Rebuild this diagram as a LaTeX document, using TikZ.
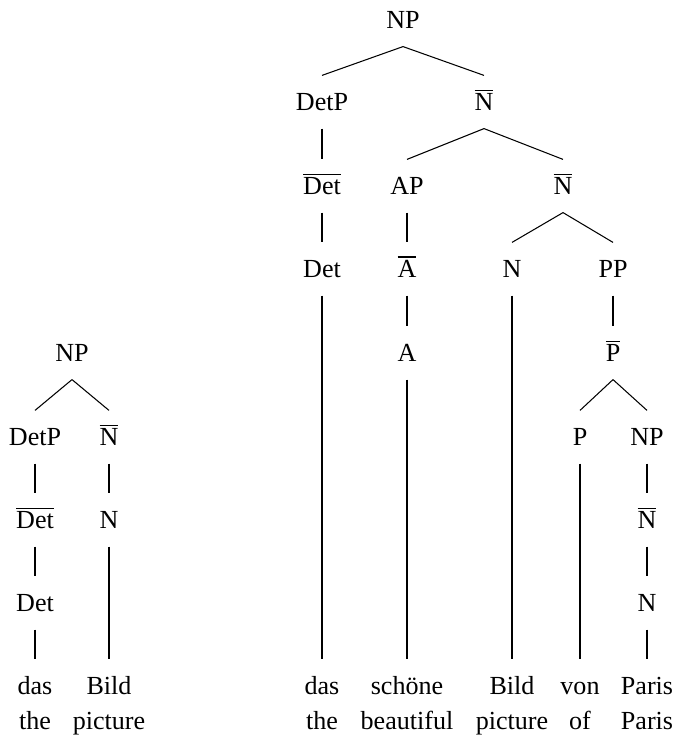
\documentclass[tikz,border=0pt]{standalone}
\usepackage{fontspec}
\setmainfont{Liberation Serif}
\newcommand{\xbar}[1]{$\overline{\mbox{#1}}$}

\begin{document}
\begin{tikzpicture}[x=0.3835pt,y=-0.3835pt,
  cat/.style={inner sep=0pt,text height=6.8pt,text depth=0pt,minimum height=20pt}]
\useasboundingbox (0,0) rectangle (677,737);
% small tree
\node[cat] (lnp) at (72,353) {NP};
\node[cat] (ldetp) at (35,437) {DetP};
\node[cat] (lnbar) at (109,437) {\xbar{N}};
\node[cat] (ldetbar) at (35,520) {\xbar{Det}};
\node[cat] (ln) at (109,520) {N};
\node[cat] (ldet) at (35,603) {Det};
\node[cat] (ldas) at (35,686) {das};
\node[cat] (lbild) at (109,686) {Bild};
\node[cat] (lthe) at (35,721) {the};
\node[cat] (lpicture) at (109,721) {picture};
% big tree
\node[cat] (np) at (403,20) {NP};
\node[cat] (detp) at (322,102) {DetP};
\node[cat] (nbara) at (484,102) {\xbar{N}};
\node[cat] (detbar) at (322,186) {\xbar{Det}};
\node[cat] (ap) at (407,186) {AP};
\node[cat] (nbarb) at (563,186) {\xbar{N}};
\node[cat] (det) at (322,269) {Det};
\node[cat] (abar) at (407,269) {\xbar{A}};
\node[cat] (n) at (512,269) {N};
\node[cat] (pp) at (613,269) {PP};
\node[cat] (a) at (407,353) {A};
\node[cat] (pbar) at (613,353) {\xbar{P}};
\node[cat] (p) at (580,437) {P};
\node[cat] (npb) at (647,437) {NP};
\node[cat] (nbarc) at (647,520) {\xbar{N}};
\node[cat] (nb) at (647,603) {N};
\node[cat] (das) at (322,686) {das};
\node[cat] (schoene) at (407,686) {schöne};
\node[cat] (bild) at (512,686) {Bild};
\node[cat] (von) at (580,686) {von};
\node[cat] (paris) at (647,686) {Paris};
\node[cat] (the) at (322,721) {the};
\node[cat] (beautiful) at (407,721) {beautiful};
\node[cat] (picture) at (512,721) {picture};
\node[cat] (of) at (580,721) {of};
\node[cat] (parisgl) at (647,721) {Paris};
% branches
\foreach \a/\b in {lnp/ldetp,lnp/lnbar,ldetp/ldetbar,ldetbar/ldet,ldet/ldas,lnbar/ln,ln/lbild,
  np/detp,np/nbara,detp/detbar,detbar/det,det/das,nbara/ap,nbara/nbarb,ap/abar,abar/a,a/schoene,
  nbarb/n,nbarb/pp,n/bild,pp/pbar,pbar/p,pbar/npb,p/von,npb/nbarc,nbarc/nb,nb/paris}
  \draw (\a.south) -- (\b.north);
\end{tikzpicture}
\end{document}
